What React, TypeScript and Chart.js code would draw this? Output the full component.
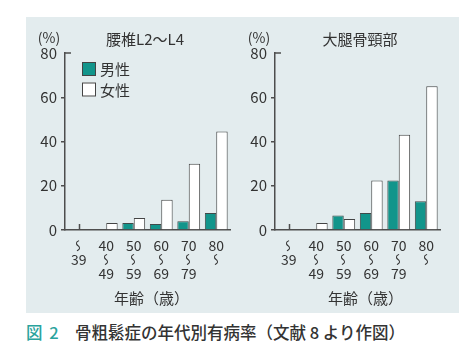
import { useEffect, useRef } from "react";
import { Chart, registerables } from "chart.js";

Chart.register(...registerables);

// Age groups; "〜" marks the range dash, which is set vertically
const WAVE = "〜";
const ageLabels = [
  [WAVE, "39"],
  ["40", WAVE, "49"],
  ["50", WAVE, "59"],
  ["60", WAVE, "69"],
  ["70", WAVE, "79"],
  ["80", WAVE],
];
const yTickValues = [0, 20, 40, 60, 80];

// Prevalence (%) – lumbar spine L2–L4
const lumbarMale = [0, 0, 3.2, 2.7, 3.9, 7.7];
const lumbarFemale = [0, 3.2, 5.4, 13.7, 30, 44.5];
// Prevalence (%) – femoral neck
const femoralMale = [0, 0, 6.5, 7.7, 22.4, 13];
const femoralFemale = [0, 3.2, 5, 22.4, 43, 65];

const seriesNames = ["男性", "女性"];
const panelTitles = ["腰椎L2〜L4", "大腿骨頸部"];
const unitLabel = "(%)";
const xAxisTitle = "年齢（歳）";
const figureNo = "図 2";
const figureCaption = "骨粗鬆症の年代別有病率（文献 8 より作図）";

const FONT = '"Noto Sans CJK JP", "Noto Sans", sans-serif';
const TEXT = "#333333";
const AXIS = "#4d4d4d";
const TEAL = "#12958b";
const PANEL_BG = "#e3ecee";

const X_TICK_SIZE = 14;
const X_TICK_LINE = 0.98;
const X_TICK_PAD = 9;

const decorPlugin = {
  id: "panelDecor",
  afterDraw(chart: any, _args: any, opts: any) {
    const { ctx, chartArea: a, scales } = chart;
    const x = scales.x;
    const y = scales.y;
    ctx.save();
    ctx.fillStyle = TEXT;
    ctx.textBaseline = "middle";

    // panel title and unit
    ctx.textAlign = "center";
    ctx.font = `15px ${FONT}`;
    ctx.fillText(opts.title, a.left + opts.titleDx, opts.titleY);
    ctx.font = `14px ${FONT}`;
    ctx.fillText(unitLabel, a.left - 16, opts.titleY - 1);

    // x-axis title
    ctx.font = `15px ${FONT}`;
    ctx.fillText(xAxisTitle, (a.left + a.right) / 2 + opts.axisTitleDx, a.bottom + 68);

    // vertical range dashes inside the age labels
    const lh = X_TICK_SIZE * X_TICK_LINE;
    ctx.font = `12px ${FONT}`;
    ageLabels.forEach((lines, i) => {
      lines.forEach((s, k) => {
        if (s !== WAVE) return;
        const cx = x.getPixelForValue(i);
        const cy = a.bottom + X_TICK_PAD + lh * (k + 0.5);
        ctx.save();
        ctx.translate(cx, cy);
        ctx.rotate(Math.PI / 2);
        ctx.scale(1, -1);
        ctx.fillText(WAVE, 0, 0);
        ctx.restore();
      });
    });

    // cap at the top of the value axis, marker at first age group
    ctx.strokeStyle = AXIS;
    ctx.lineWidth = 1.5;
    ctx.beginPath();
    const yTop = y.getPixelForValue(80);
    ctx.moveTo(a.left, yTop);
    ctx.lineTo(a.left + 6, yTop);
    const mx = Math.round(x.getPixelForValue(0)) + 0.5;
    ctx.moveTo(mx, a.bottom);
    ctx.lineTo(mx, a.bottom - 6);
    ctx.stroke();

    // legend
    if (opts.legend) {
      ctx.textAlign = "left";
      ctx.font = `15px ${FONT}`;
      chart.data.datasets.forEach((ds: any, i: number) => {
        const bx = a.left + 17;
        const by = a.top + 9 + i * 20.5;
        ctx.fillStyle = ds.backgroundColor;
        ctx.fillRect(bx, by, 14, 14);
        ctx.strokeStyle = "#444";
        ctx.lineWidth = 1;
        ctx.strokeRect(bx + 0.5, by + 0.5, 13, 13);
        ctx.fillStyle = TEXT;
        ctx.fillText(ds.label, bx + 18, by + 7.5);
      });
    }
    ctx.restore();
  },
};

function BarPanel(props: {
  male: number[];
  female: number[];
  title: string;
  titleDx: number;
  axisTitleDx: number;
  legend: boolean;
  left: number;
}) {
  const ref = useRef<HTMLCanvasElement | null>(null);
  useEffect(() => {
    if (!ref.current) return;
    const chart = new Chart(ref.current, {
      type: "bar",
      data: {
        labels: ageLabels,
        datasets: [
          {
            label: seriesNames[0],
            data: props.male,
            backgroundColor: TEAL,
            borderColor: "#3f4a4a",
            borderWidth: 1,
            borderSkipped: "bottom",
          },
          {
            label: seriesNames[1],
            data: props.female,
            backgroundColor: "#ffffff",
            borderColor: "#444444",
            borderWidth: 1,
            borderSkipped: "bottom",
          },
        ],
      },
      options: {
        responsive: false,
        animation: false,
        devicePixelRatio: 1,
        datasets: { bar: { categoryPercentage: 0.83, barPercentage: 1 } },
        layout: { padding: { top: 36, right: 11, left: 0, bottom: 0 } },
        plugins: {
          legend: { display: false },
          tooltip: { enabled: false },
          title: { display: false },
          panelDecor: {
            title: props.title,
            titleDx: props.titleDx,
            titleY: 22,
            axisTitleDx: props.axisTitleDx,
            legend: props.legend,
          },
        } as any,
        scales: {
          x: {
            afterFit: (s: any) => {
              s.height = 83;
            },
            grid: { display: false, drawTicks: false },
            border: { display: true, color: AXIS, width: 1.5 },
            ticks: {
              color: TEXT,
              font: { family: FONT, size: X_TICK_SIZE, lineHeight: X_TICK_LINE },
              padding: X_TICK_PAD,
              maxRotation: 0,
              autoSkip: false,
              callback: (_v: any, i: number) => ageLabels[i].map((s) => (s === WAVE ? "" : s)),
            },
          },
          y: {
            min: 0,
            max: 80,
            afterFit: (s: any) => {
              s.width = 40;
            },
            afterBuildTicks: (s: any) => {
              s.ticks = yTickValues.map((v) => ({ value: v }));
            },
            grid: {
              drawOnChartArea: false,
              drawTicks: true,
              tickLength: 4,
              lineWidth: 1.5,
              color: (c: any) => (c.tick && c.tick.value === 80 ? "rgba(0,0,0,0)" : AXIS),
            },
            border: { display: true, color: AXIS, width: 1.5 },
            ticks: {
              color: TEXT,
              font: { family: FONT, size: 15 },
              padding: 4,
            },
          },
        },
      },
      plugins: [decorPlugin],
    });
    return () => chart.destroy();
  }, []);
  return (
    <canvas
      ref={ref}
      width={216}
      height={296}
      style={{ position: "absolute", left: props.left, top: 17, width: 216, height: 296 }}
    />
  );
}

export default function App() {
  return (
    <div
      style={{
        position: "absolute",
        left: 0,
        top: 0,
        width: 474,
        height: 351,
        background: "#ffffff",
        overflow: "hidden",
        fontFamily: FONT,
      }}
    >
      <div
        style={{
          position: "absolute",
          left: 26,
          top: 17,
          width: 433,
          height: 296,
          background: PANEL_BG,
        }}
      />
      <BarPanel
        male={lumbarMale}
        female={lumbarFemale}
        title={panelTitles[0]}
        titleDx={80}
        axisTitleDx={4}
        legend={true}
        left={25}
      />
      <BarPanel
        male={femoralMale}
        female={femoralFemale}
        title={panelTitles[1]}
        titleDx={85}
        axisTitleDx={8}
        legend={false}
        left={235}
      />
      <div
        style={{
          position: "absolute",
          left: 26,
          top: 322,
          height: 20,
          lineHeight: "20px",
          fontSize: 16.5,
          fontWeight: 500,
          color: "#333333",
          whiteSpace: "nowrap",
        }}
      >
        <span style={{ color: "#2aa39d", display: "inline-block", width: 49, wordSpacing: 3 }}>
          {figureNo}
        </span>
        <span>{figureCaption}</span>
      </div>
    </div>
  );
}
